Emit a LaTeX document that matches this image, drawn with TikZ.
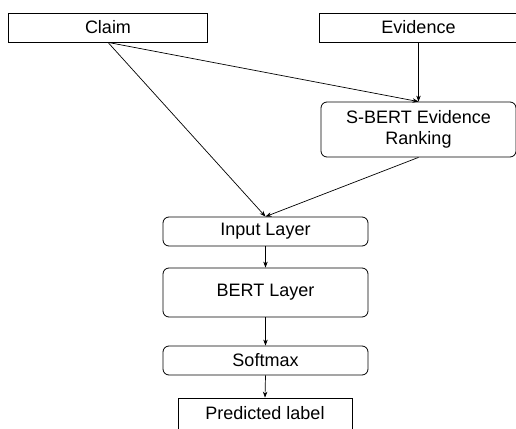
\documentclass[tikz,border=0pt]{standalone}
\usepackage{fontspec}
\setmainfont{Liberation Sans}
\usetikzlibrary{arrows.meta}
\begin{document}
\begin{tikzpicture}[x=1pt,y=-1pt,
  box/.style={draw,line width=0.8pt,inner sep=0pt,align=center,font=\fontsize{18}{21}\selectfont},
  rbox/.style={box,rounded corners=6pt},
  arr/.style={draw,line width=0.7pt,-{Stealth[length=6pt,width=4.5pt]}}]
\useasboundingbox (0,0) rectangle (516,428);
\node[box,minimum width=199pt,minimum height=29pt] (claim) at (108,27.5) {Claim};
\node[box,minimum width=199pt,minimum height=29pt] (evid) at (418.5,27.5) {Evidence};
\node[rbox,minimum width=195pt,minimum height=55pt] (sbert) at (418.5,129.5) {S-BERT Evidence\\Ranking};
\node[rbox,minimum width=205pt,minimum height=29pt] (input) at (265.5,231.5) {Input Layer};
\node[rbox,minimum width=205pt,minimum height=49pt] (bert) at (265.5,292.5) {BERT Layer};
\node[rbox,minimum width=205pt,minimum height=29pt] (soft) at (265.5,360.5) {Softmax};
\node[box,minimum width=174pt,minimum height=34pt] (pred) at (265,415) {};
\node[font=\fontsize{18}{21}\selectfont] at (265,413) {Predicted label};
\draw[arr] (evid.south) -- (sbert.north);
\draw[arr] (claim.south) -- (sbert.north);
\draw[arr] (claim.south) -- (input.north);
\draw[arr] (sbert.south) -- (input.north);
\draw[arr] (input.south) -- (bert.north);
\draw[arr] (bert.south) -- (soft.north);
\draw[arr] (soft.south) -- (pred.north);
\end{tikzpicture}
\end{document}
